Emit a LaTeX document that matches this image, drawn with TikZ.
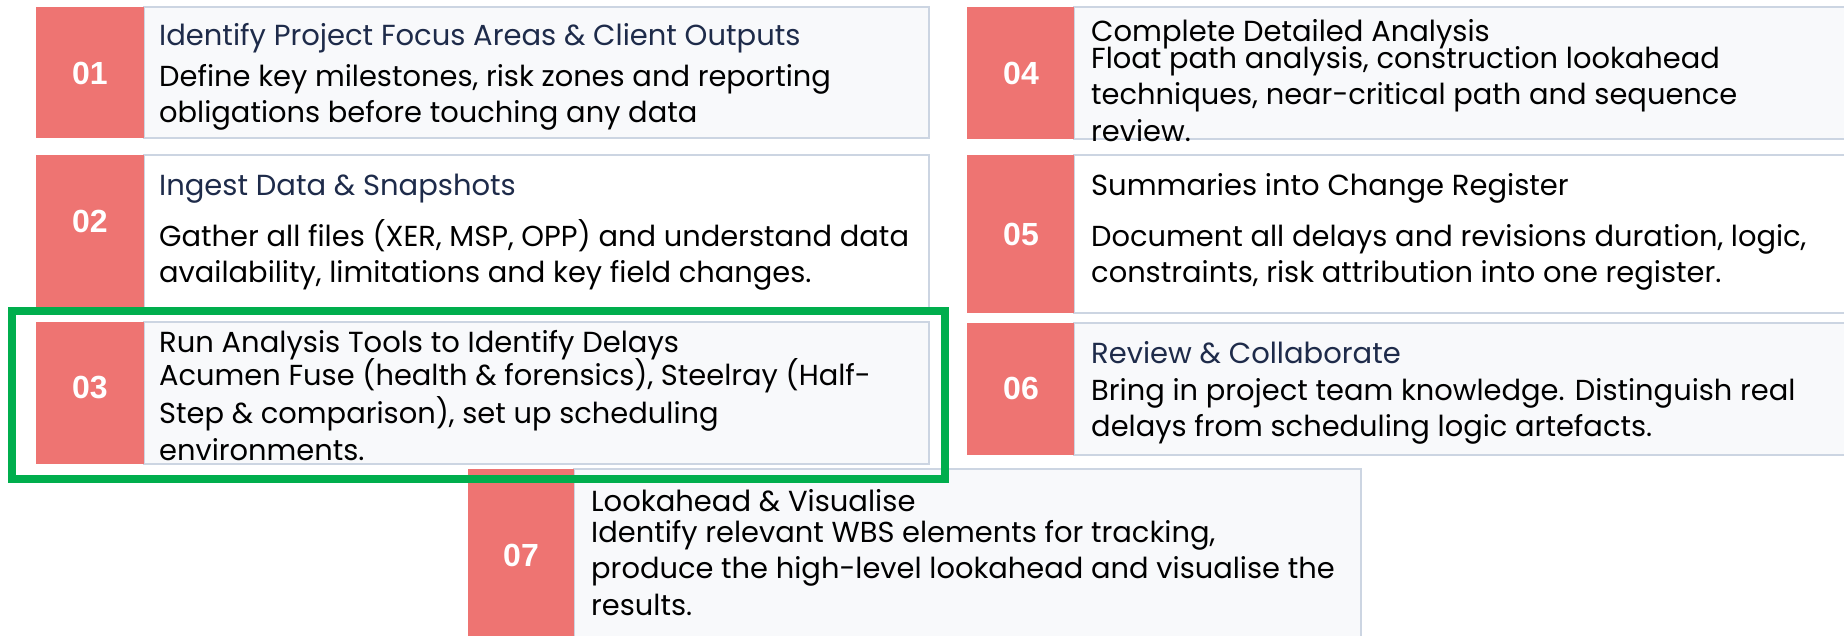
\documentclass[tikz,border=0pt]{standalone}
\usepackage{fontspec}
\setmainfont{Poppins}
\newfontfamily\numfont{Liberation Sans}
\definecolor{numred}{HTML}{EE7472}
\definecolor{boxfill}{HTML}{F8F9FB}
\definecolor{boxline}{HTML}{CCD5E2}
\definecolor{navy}{HTML}{1E2B4A}
\definecolor{hlgreen}{HTML}{00AE4D}
\tikzset{
  panel/.style={draw=boxline, line width=2.5pt, fill=boxfill},
  panelw/.style={draw=boxline, line width=2.5pt, fill=white},
  numbox/.style={fill=numred},
  numtxt/.style={text=white, font=\numfont\bfseries\fontsize{32}{32}\selectfont, inner sep=0pt},
  ttl/.style={anchor=base west, inner sep=0pt, font=\fontsize{29}{36}\selectfont},
  bdy/.style={anchor=base west, inner sep=0pt, font=\fontsize{28.9}{36.5}\selectfont},
}
\newcommand{\twolines}[2]{\vtop{\hbox{\strut #1}\hbox{\strut #2}}}
\newcommand{\threelines}[3]{\vtop{\hbox{\strut #1}\hbox{\strut #2}\hbox{\strut #3}}}
\begin{document}
\begin{tikzpicture}[x=1pt, y=-1pt]
\useasboundingbox (0,0) rectangle (1844,635);
\clip (0,0) rectangle (1844,635);
\fill[white] (0,0) rectangle (1844,635);
% ---- left column
\draw[panel] (144,7) rectangle (929,138);
\fill[numbox] (36,7) rectangle (144,138);
\node[numtxt] (n1) at (90,73) {01};
\node[ttl, text=navy] (t1) at (159,45) {Identify Project Focus Areas \& Client Outputs};
\node[bdy] (b1) at (159,86) {\twolines{Define key milestones, risk zones and reporting}{obligations before touching any data}};

\draw[panelw] (144,155) rectangle (929,308);
\fill[numbox] (36,155) rectangle (144,308);
\node[numtxt] (n2) at (90,221) {02};
\node[ttl, text=navy] (t2) at (159,195) {Ingest Data \& Snapshots};
\node[bdy] (b2) at (159,246) {\twolines{Gather all files (XER, MSP, OPP) and understand data}{availability, limitations and key field changes.}};

\draw[panel] (144,322) rectangle (929,464);
\fill[numbox] (36,322) rectangle (144,464);
\node[numtxt] (n3) at (90,388) {03};
\node[ttl, text=black] (t3) at (159,352) {Run Analysis Tools to Identify Delays};
\node[bdy] (b3) at (159,385) {\threelines{Acumen Fuse (health \& forensics), Steelray (Half-}{Step \& comparison), set up scheduling}{environments.}};

% ---- right column
\draw[panel] (1074,7) rectangle (1870,139);
\fill[numbox] (967,7) rectangle (1074,139);
\node[numtxt] (n4) at (1021,73) {04};
\node[ttl, text=black] (t4) at (1091,41) {Complete Detailed Analysis};
\node[bdy] (b4) at (1091,68) {\threelines{Float path analysis, construction lookahead}{techniques, near-critical path and sequence}{review.}};

\draw[panelw] (1074,155) rectangle (1870,313);
\fill[numbox] (967,155) rectangle (1074,313);
\node[numtxt] (n5) at (1021,234) {05};
\node[ttl, text=black] (t5) at (1091,195) {Summaries into Change Register};
\node[bdy] (b5) at (1091,246) {\twolines{Document all delays and revisions duration, logic,}{constraints, risk attribution into one register.}};

\draw[panel] (1074,323) rectangle (1870,455);
\fill[numbox] (967,323) rectangle (1074,455);
\node[numtxt] (n6) at (1021,388) {06};
\node[ttl, text=navy] (t6) at (1091,363) {Review \& Collaborate};
\node[bdy] (b6) at (1091,400) {\twolines{Bring in project team knowledge. Distinguish real}{delays from scheduling logic artefacts.}};

% ---- bottom
\draw[panel] (574,469) rectangle (1361,660);
\fill[numbox] (468,469) rectangle (574,660);
\node[numtxt] (n7) at (521,555) {07};
\node[ttl, text=black] (t7) at (591,511) {Lookahead \& Visualise};
\node[bdy] (b7) at (591,542) {\threelines{Identify relevant WBS elements for tracking,}{produce the high-level lookahead and visualise the}{results.}};

% ---- highlight
\draw[hlgreen, line width=8pt] (11.5,311) rectangle (944.5,478.5);
\end{tikzpicture}
\end{document}
